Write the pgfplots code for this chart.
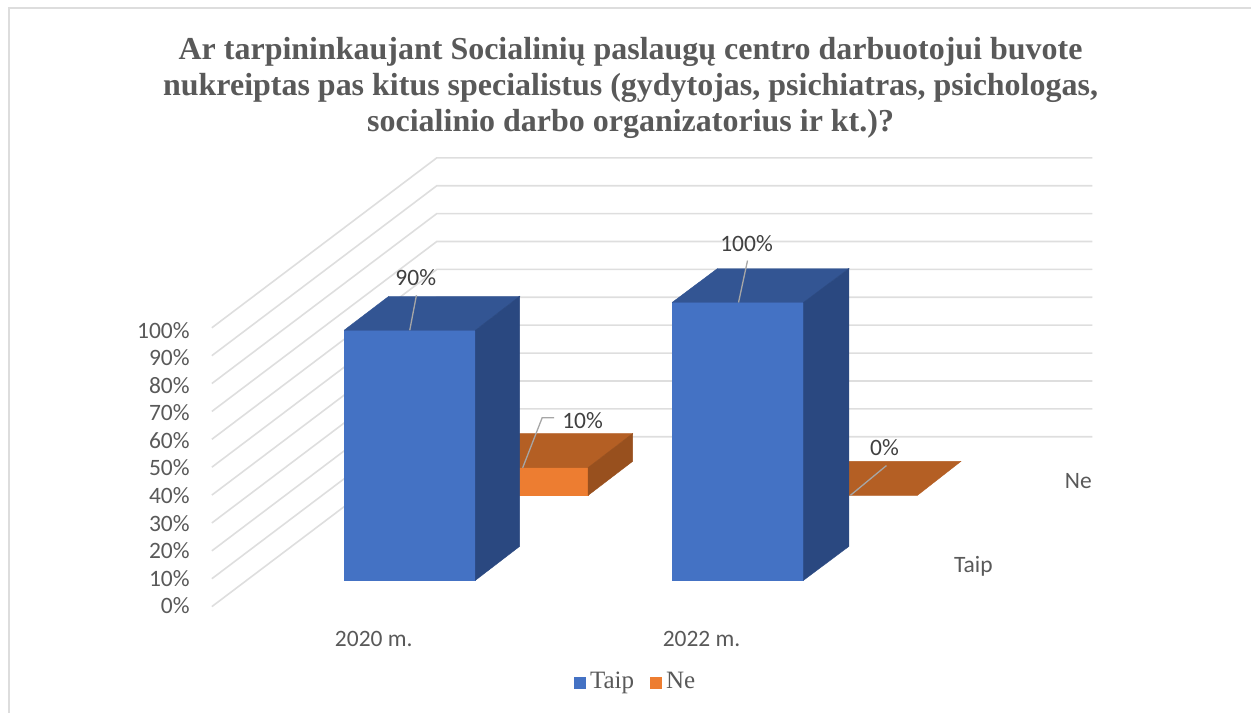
\documentclass[border=0pt]{standalone}
\usepackage{pgfplots}
\pgfplotsset{compat=1.18}
\usepackage{fontspec}
\setmainfont{Liberation Serif}
\newfontfamily\carlito{Carlito}
\definecolor{tb}{HTML}{4472C4}
\definecolor{tbtop}{HTML}{335593}
\definecolor{tbside}{HTML}{2A4880}
\definecolor{no}{HTML}{ED7D31}
\definecolor{notop}{HTML}{B45F24}
\definecolor{noside}{HTML}{98501E}
\definecolor{gridc}{HTML}{DEDEDE}
\definecolor{leader}{HTML}{A6A6A6}
\definecolor{framec}{HTML}{DDDDDD}
\definecolor{ticktxt}{HTML}{595959}
\definecolor{lbltxt}{HTML}{404040}
\pgfplotsset{
  ne/.style={y filter/.expression={y+30.58}},
  face/.style={fill=#1,draw=#1,line width=0.4pt},
  gl/.style={gridc,line width=1.6pt},
  ld/.style={leader,line width=1.3pt},
}
\tikzset{
  tl/.style={inner sep=0pt,anchor=east,text=ticktxt,font=\carlito\fontsize{23.5}{26}\selectfont},
  cl/.style={inner sep=0pt,anchor=center,text=ticktxt,font=\carlito\fontsize{23.5}{26}\selectfont},
  dl/.style={inner sep=0pt,anchor=center,text=lbltxt,font=\carlito\fontsize{23.5}{26}\selectfont},
}
\begin{document}
\begin{tikzpicture}
\begin{axis}[
  scale only axis,width=1252pt,height=713pt,
  xmin=0,xmax=1252,ymin=-47.59,ymax=208.88,
  hide axis,clip=false,
  legend style={at={(axis cs:636,-36.8)},anchor=center,draw=none,fill=none,
    legend columns=2,font=\fontsize{25}{27}\selectfont,text=ticktxt,
    nodes={text height=17pt,text depth=6pt},
    /tikz/every even column/.append style={column sep=14pt}},
  legend image code/.code={\fill[#1,draw=none] (0pt,-6pt) rectangle (12pt,6pt);\path[draw=none,fill=none] (14pt,-6pt) rectangle (14pt,6pt);},
]
\path (axis cs:0,-47.59) rectangle (axis cs:1252,208.88);
\addlegendimage{fill=tb}
\addlegendentry{Taip}
\addlegendimage{fill=no}
\addlegendentry{Ne}

% frame of the chart
\addplot[framec,line width=1.6pt] coordinates {(9,-47.59) (9,206.1) (1252,206.1)};

% walls: 0%..100%
\addplot[gl] coordinates {(212,-9.46) (437,51.69) (1093,51.69)};
\addplot[gl] coordinates {(212,0.58) (437,61.73) (1093,61.73)};
\addplot[gl] coordinates {(212,10.61) (437,71.76) (1093,71.76)};
\addplot[gl] coordinates {(212,20.65) (437,81.80) (1093,81.80)};
\addplot[gl] coordinates {(212,30.68) (437,91.83) (1093,91.83)};
\addplot[gl] coordinates {(212,40.72) (437,101.87) (1093,101.87)};
\addplot[gl] coordinates {(212,50.76) (437,111.91) (1093,111.91)};
\addplot[gl] coordinates {(212,60.79) (437,121.94) (1093,121.94)};
\addplot[gl] coordinates {(212,70.83) (437,131.98) (1093,131.98)};
\addplot[gl] coordinates {(212,80.86) (437,142.01) (1093,142.01)};
\addplot[gl] coordinates {(212,90.90) (437,152.05) (1093,152.05)};

% Ne 2020 = 10
\addplot[face=no,ne] coordinates {(457,0) (457,10) (588.5,10) (588.5,0) (457,0)};
\addplot[face=notop,ne] coordinates {(457,10) (501.3,22.23) (633,22.23) (588.5,10) (457,10)};
\addplot[face=noside,ne] coordinates {(588.5,0) (588.5,10) (633,22.23) (633,12.23) (588.5,0)};
% Ne 2022 = 0
\addplot[face=notop,ne] coordinates {(786.5,0) (831,12.23) (961.5,12.23) (918,0) (786.5,0)};

% Taip 2020 = 90
\addplot[face=tb] coordinates {(344.3,0) (344.3,90) (475.7,90) (475.7,0) (344.3,0)};
\addplot[face=tbtop] coordinates {(344.3,90) (389,102.23) (520,102.23) (475.7,90) (344.3,90)};
\addplot[face=tbside] coordinates {(475.7,0) (475.7,90) (520,102.23) (520,12.23) (475.7,0)};
% Taip 2022 = 100
\addplot[face=tb] coordinates {(672.5,0) (672.5,100) (804,100) (804,0) (672.5,0)};
\addplot[face=tbtop] coordinates {(672.5,100) (718,112.23) (849.5,112.23) (804,100) (672.5,100)};
\addplot[face=tbside] coordinates {(804,0) (804,100) (849.5,112.23) (849.5,12.23) (804,0)};

% leaders
\addplot[ld] coordinates {(410,90) (416.7,102.6)};
\addplot[ld] coordinates {(739,100) (748,115.1)};
\addplot[ld] coordinates {(523,40.5) (542.5,58.5) (554.4,58.5)};
\addplot[ld] coordinates {(851,30.6) (887,41.3)};

% value labels
\node[dl] at (axis cs:416,108.9) {90\%};
\node[dl] at (axis cs:747,121.3) {100\%};
\node[dl] at (axis cs:583,57.6) {10\%};
\node[dl] at (axis cs:885,47.6) {0\%};

% value axis labels
\node[tl] at (axis cs:190,89.9) {100\%};
\node[tl] at (axis cs:190,80.0) {90\%};
\node[tl] at (axis cs:190,70.1) {80\%};
\node[tl] at (axis cs:190,60.2) {70\%};
\node[tl] at (axis cs:190,50.3) {60\%};
\node[tl] at (axis cs:190,40.4) {50\%};
\node[tl] at (axis cs:190,30.5) {40\%};
\node[tl] at (axis cs:190,20.6) {30\%};
\node[tl] at (axis cs:190,10.7) {20\%};
\node[tl] at (axis cs:190,0.8) {10\%};
\node[tl] at (axis cs:190,-9.1) {0\%};

% category labels
\node[cl] at (axis cs:374,-21.2) {2020 m.};
\node[cl] at (axis cs:702,-21.2) {2022 m.};
\node[cl] at (axis cs:1079,35.6) {Ne};
\node[cl] at (axis cs:974,4.9) {Taip};

% title
\node[inner sep=0pt,anchor=center,align=center,text=ticktxt,
  font=\bfseries\fontsize{32}{36}\selectfont] at (axis cs:631,177.2)
  {Ar tarpininkaujant Socialinių paslaugų centro darbuotojui buvote\\
   nukreiptas pas kitus specialistus (gydytojas, psichiatras, psichologas,\\
   socialinio darbo organizatorius ir kt.)?};
\end{axis}
\end{tikzpicture}
\end{document}
